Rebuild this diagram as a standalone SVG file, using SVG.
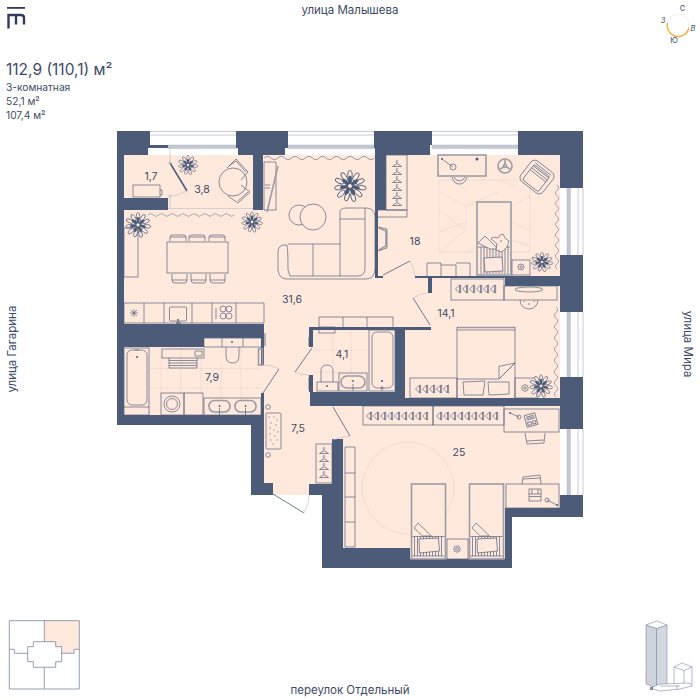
<svg xmlns="http://www.w3.org/2000/svg" xmlns:xlink="http://www.w3.org/1999/xlink" width="700" height="700" viewBox="0 0 700 700">
<style>
text{font-family:"Inter","Noto Sans","Liberation Sans",sans-serif;fill:#3d4b68;}
.lab{font-size:10.5px;text-anchor:middle;}
.st{font-size:11.5px;text-anchor:middle;}
.w{fill:#4c5b78;}
.f{fill:none;stroke:#56637e;stroke-width:.7;}
.p{fill:#ffe8dc;stroke:#56637e;stroke-width:.7;}
.g{fill:none;stroke:#9b9ca6;stroke-width:1.6;}
.gp{fill:#ffe8dc;stroke:#9b9ca6;stroke-width:1.6;}
.t{fill:none;stroke:#f3d8cb;stroke-width:.8;}
.r{fill:none;stroke:#f1dacf;stroke-width:.9;}
.c{fill:none;stroke:#4c5b78;stroke-width:.8;}
.d{fill:none;stroke:#4c5b78;stroke-width:1.5;}
.a{fill:none;stroke:#b9bdc8;stroke-width:.6;}
.wn{fill:none;stroke:#b9bfcc;stroke-width:.8;}
.wb{fill:#c3c9d4;stroke:#aab1c0;stroke-width:.4;}
.k{fill:none;stroke:#8a94a8;stroke-width:.9;}
</style>
<defs>
<g id="hanger" class="f"><path d="M-4.500 2.500 L0 -.5 L4.500 2.500 Z M0 -.5 V-1.800 A.8 .8 0 1 1 .8 -2.600"/></g>
<g id="shoe" class="f"><path d="M-2.500 0 L1.500 -4 V4 Z M1.500 -3.200 L2.600 -4 V4 L1.500 3.200"/></g>
<g id="plant">
<g fill="#ffe8dc" stroke="#4c5b78" stroke-width=".6">
<ellipse cx="0" cy="-7.500" rx="1.500" ry="3.200"/>
<ellipse cx="0" cy="-7.500" rx="1.500" ry="3.200" transform="rotate(33)"/>
<ellipse cx="0" cy="-7.500" rx="1.500" ry="3.200" transform="rotate(66)"/>
<ellipse cx="0" cy="-8" rx="1.500" ry="3.200" transform="rotate(98)"/>
<ellipse cx="0" cy="-7.500" rx="1.500" ry="3.200" transform="rotate(131)"/>
<ellipse cx="0" cy="-8" rx="1.500" ry="3.200" transform="rotate(164)"/>
<ellipse cx="0" cy="-7.500" rx="1.500" ry="3.200" transform="rotate(196)"/>
<ellipse cx="0" cy="-8" rx="1.500" ry="3.200" transform="rotate(229)"/>
<ellipse cx="0" cy="-7.500" rx="1.500" ry="3.200" transform="rotate(262)"/>
<ellipse cx="0" cy="-8" rx="1.500" ry="3.200" transform="rotate(295)"/>
<ellipse cx="0" cy="-7.500" rx="1.500" ry="3.200" transform="rotate(328)"/>
</g>
<g fill="#4c5b78">
<ellipse cx="0" cy="-4" rx="1.300" ry="3"/>
<ellipse cx="0" cy="-4" rx="1.300" ry="3" transform="rotate(52)"/>
<ellipse cx="0" cy="-4" rx="1.300" ry="3" transform="rotate(104)"/>
<ellipse cx="0" cy="-4" rx="1.300" ry="3" transform="rotate(156)"/>
<ellipse cx="0" cy="-4" rx="1.300" ry="3" transform="rotate(208)"/>
<ellipse cx="0" cy="-4" rx="1.300" ry="3" transform="rotate(260)"/>
<ellipse cx="0" cy="-4" rx="1.300" ry="3" transform="rotate(312)"/>
</g>
<circle r="1.200" fill="#ffe8dc"/>
</g>
<g id="bed25">
<rect class="gp" x="0" y="0" width="34" height="75"/>
<path class="f" d="M3 53 V72 M6 53 V72 M9 53 V72 M12 53 V72 M15 53 V72 M18 53 V72 M21 53 V72 M24 53 V72 M27 53 V72 M30 53 V72 M1 52.500 H33 M1 72 H33"/>
<path class="p" d="M7.500 55 L27 54 L28 67 L8 69 Z"/>
<path class="p" d="M2.500 44 L6.500 39 L20 52 L11 52 Z"/>
</g>
<g id="curtain"><path class="f" d="M0 0 q3.750 -4 7.500 0 t7.500 0 t7.500 0 t7.500 0 t7.500 0 t7.500 0 t7.500 0 t7.500 0 t7.500 0 t7.500 0 t7.500 0 t7.500 0 t7.500 0 t7.500 0 t7.500 0 t7.500 0"/></g>
</defs>

<g id="windows">
<path class="wn" d="M150 131.500H237 M150 135H237 M288 131.500H375 M288 135H375 M432 131.500H518 M432 135H518"/>
<rect class="wb" x="168" y="145" width="69" height="3.500"/><rect class="wb" x="288" y="145" width="87" height="3.500"/><rect class="wb" x="432" y="145" width="86" height="3.500"/>
<path class="wn" d="M578 188V255 M583 188V255 M578 312V377 M583 312V377 M578 429V495 M583 429V495"/>
<rect class="wb" x="567" y="188" width="3.500" height="67"/><rect class="wb" x="567" y="312" width="3.500" height="65"/><rect class="wb" x="567" y="429" width="3.500" height="66"/>
</g>

<path id="floor" fill="#ffe8dc" d="M124 155 H375 V155 H560 V508 H505 V559 H343 V495 H273 V483 H262 V325 H124 Z M124 210 H262 V340 H124 Z"/>
<rect fill="#ffe8dc" x="124" y="340" width="140" height="80"/>
<rect fill="#ffe8dc" x="260" y="210" width="120" height="130"/>
<rect fill="#ffe8dc" x="124" y="208" width="140" height="120"/>

<g id="floor-details">
<path class="t" d="M149 368.500H261 M149 388H261 M161 347V398 M181 347V398 M201 358V398 M221 363V398 M241 347V398 M149 398V415"/>
<path class="t" d="M313 350H369 M313 372H339 M333 331V365 M351 331V373"/>
<path class="r" d="M439 180H530V252H439Z M439 192L466 206L498 192 M439 210L466 230L439 252 M466 206L466 230 M439 232L466 222 M466 252L478 246 M512 206L530 196 M512 222L530 230 M512 240L530 246 M450 180L466 190 M498 180L515 186"/>
<circle class="r" cx="408" cy="488" r="46"/>
</g>

<g id="walls" class="w">
<path d="M117 131H150V145H168V148H148V155H124V198H168V210H124V324H264V210H253V155H238V148H236V131H288V148H285V155H263V210H264V338H204V347H124V415H261V393H264V365H261V338H264V425H264V483H273V495H251V425H117Z"/>
<path d="M374 131H432V145H430V155H386V210H378V276H383V278H375V148H374Z"/>
<path d="M518 131H583V188H560V155H518Z"/>
<path d="M560 255H583V312H560V286H505V278H415V276H560Z"/>
<path d="M428 278H432V293H428Z"/>
<path d="M560 377H583V429H560V406H505V406H310V392H313V375H309V392H395V330H313V347H309V327H431V330H405V398H560Z"/>
<path d="M332 439H343V548H410V559H505V508H560V495H583V517H512V568H322V495H309V484H332Z"/>
</g>

<g id="connectors">
<path class="d" d="M170 163L187 191"/><path class="a" d="M170 148V163 M170 196V208 M187 191Q178 196 170 196"/><circle class="a" cx="170" cy="163" r="1.400" fill="#ffe8dc"/><circle class="a" cx="170" cy="196" r="1.400" fill="#ffe8dc"/>
<path class="c" d="M263 393L279 369"/><path class="a" d="M261 365Q273 365 279 369"/>
<path class="c" d="M312 348L295 372"/><path class="a" d="M295 372Q300 375 309 375"/>
<path class="c" d="M265 333V346 M309 337V346 M309 377V390"/>
<path class="c" d="M273 494L304 513"/><path class="a" d="M304 513Q309 505 309 495"/>
<path class="c" d="M333 407L350 436"/><path class="a" d="M350 436Q341 437 333 440"/>
<path class="c" d="M383 275L410 261"/><path class="a" d="M410 261Q414 268 415 276"/>
<path class="c" d="M413 298L430 325"/><path class="a" d="M413 298Q420 293 428 293"/>
</g>

<g id="loggia">
<rect class="f" x="133" y="185" width="27" height="12"/><path class="f" d="M160 190H162V195H160"/>
<path class="a" d="M168 208.500H253"/>
<circle class="f" cx="233" cy="182" r="14"/>
<path class="f" d="M227 168L236 159L248 172L241 180 M229 166L236 161L246 172"/>
<path class="f" d="M241 185L250 192L238 203L228 196 M248 192L238 201"/>
<use xlink:href="#plant" transform="translate(188 165) scale(.9)"/>
</g>

<g id="living">
<use xlink:href="#curtain" transform="translate(148 215) scale(.72 .7)"/>
<use xlink:href="#curtain" transform="translate(264 158) scale(.92 .8)"/>
<path class="f" d="M264 162H276V210H264Z M265 185H270 M265 188H270"/>
<path class="g" d="M278 166L267 212"/>
<use xlink:href="#plant" transform="translate(138 225) scale(1.150)"/>
<use xlink:href="#plant" transform="translate(252 222) scale(.95)"/>
<use xlink:href="#plant" transform="translate(350 186) scale(1.450)"/>
<circle class="f" cx="299" cy="215" r="10"/><circle class="p" cx="313" cy="217" r="13"/>
<path class="f" d="M288 244H340 M278 252Q278 244 287 245Q288 250 288 270L290 276H340 M278 252V270Q279 279 287 279H340 M313 244V276 M340 219V276 M340 279H366Q375 279 375 268V216Q374 208 366 208H346Q340 208 340 212V219H365 M365 208V268Q365 276 358 276H340"/>
<rect class="f" x="167" y="242" width="61" height="31"/>
<path class="f" d="M170 241V237Q170 235 173 235H183Q186 235 186 237V241 M170 237H186 M189 241V237Q189 235 192 235H202Q205 235 205 237V241 M189 237H205 M209 241V237Q209 235 212 235H222Q225 235 225 237V241 M209 237H225"/>
<path class="f" d="M172 274V280Q172 283 175 283H185Q187 283 187 280V274 M172 280H187 M191 274V280Q191 283 194 283H204Q206 283 206 280V274 M191 280H206 M210 274V280Q210 283 213 283H223Q225 283 225 280V274 M210 280H225"/>
<rect class="f" x="124" y="228" width="14" height="49"/>
<path class="f" d="M124 303H264V323H124Z M144 303V323 M164 303V323 M192 303V323 M212 303V323 M236 303V323"/>
<rect class="f" x="169.500" y="307" width="17" height="14" rx="1"/><path d="M178 319V324" stroke="#7d8494" stroke-width="2"/><rect x="176" y="322" width="5" height="2" fill="#7d8494"/>
<path class="f" d="M216 308V319"/><circle class="f" cx="223" cy="309" r="3"/><circle class="f" cx="229" cy="309" r="3"/><circle class="f" cx="223" cy="316" r="3"/><circle class="f" cx="229" cy="316" r="3"/>
<path class="f" d="M134 309V317 M130 313H138 M131 310L137 316 M137 310L131 316"/>
<path class="f" d="M319 327V317H393V327 M343 317V327 M367 317V327"/>
</g>

<g id="bath-79">
<rect class="f" x="124" y="348" width="25" height="67"/><rect class="f" x="127" y="350" width="20" height="55" rx="5"/><circle cx="137" cy="357" r="1" fill="#4c5b78"/><path class="f" d="M135 350H139 M124 407H149"/>
<rect class="f" x="162" y="349" width="42" height="9"/><path class="f" d="M195 351H202V356H195Z"/>
<path class="f" d="M169 358V368H197V358 M169 360.500H197 M169 363H197 M169 365.500H197"/>
<path class="f" d="M204 338H262V347H204Z M222 338V347 M243 338V347 M226 347V356Q226 363 232.500 363Q239 363 239 356V347"/><circle cx="232" cy="342" r=".9" fill="#4c5b78"/>
<rect class="g" x="258.500" y="349" width="4" height="16" stroke="#6a7690"/>
<rect class="f" x="161" y="393" width="23" height="22"/><rect class="f" x="184" y="393" width="19" height="22"/><circle class="f" cx="172" cy="404" r="8"/><circle class="f" cx="172" cy="404" r="5.500"/>
<rect class="f" x="204" y="398" width="57" height="17"/>
<rect class="g" x="209" y="400.500" width="21" height="11.500" rx="5.500"/><rect class="g" x="235" y="400.500" width="21" height="11.500" rx="5.500"/>
<path class="f" d="M219.500 408V415 M245.500 408V415"/><circle cx="219.500" cy="406" r=".9" fill="#4c5b78"/><circle cx="245.500" cy="406" r=".9" fill="#4c5b78"/>
</g>

<g id="bath-41">
<rect class="f" x="319" y="327" width="16" height="6"/>
<path class="f" d="M321 382V371Q321 365 327 365Q333 365 333 371V382"/><rect class="f" x="317" y="382" width="21" height="9"/><circle cx="327" cy="386" r=".9" fill="#4c5b78"/>
<rect class="f" x="339" y="373" width="28" height="18"/><rect class="g" x="341" y="376" width="24" height="12" rx="6"/>
<path class="f" d="M353 384V391"/><circle cx="353" cy="381" r=".9" fill="#4c5b78"/>
<rect class="f" x="369" y="330" width="26" height="61"/><rect class="f" x="372" y="332" width="21" height="56" rx="5"/><circle cx="382" cy="381" r="1" fill="#4c5b78"/><path class="f" d="M380 388H384 M382 386V391"/>
</g>

<g id="hall">
<circle class="f" cx="268" cy="407" r="2.300"/><circle class="f" cx="268" cy="455" r="2.300"/>
<rect class="f" x="266" y="413" width="15" height="36" rx="1"/>
<path d="M269 417h.1 M274 417h.1 M277 420h.1 M271 423h.1 M276 425h.1 M270 428h.1 M274 430h.1 M278 432h.1 M270 434h.1 M275 436h.1 M271 440h.1 M277 440h.1 M273 444h.1" stroke="#4c5b78" stroke-width="1" stroke-linecap="round"/>
<rect class="f" x="316" y="444" width="16" height="39"/>
<use xlink:href="#hanger" transform="translate(324 451)"/><use xlink:href="#hanger" transform="translate(324 459)"/><use xlink:href="#hanger" transform="translate(324 467)"/><use xlink:href="#hanger" transform="translate(324 475)"/>
</g>

<g id="room-18">
<use xlink:href="#curtain" transform="translate(557 185) rotate(90) scale(.7 .8)"/>
<rect class="f" x="386" y="155" width="21" height="55"/><path class="f" d="M378 210H407V217H378"/>
<use xlink:href="#hanger" transform="translate(397 164)"/><use xlink:href="#hanger" transform="translate(397 172)"/><use xlink:href="#hanger" transform="translate(397 180)"/><use xlink:href="#hanger" transform="translate(397 188)"/><use xlink:href="#hanger" transform="translate(397 196)"/><use xlink:href="#hanger" transform="translate(397 203)"/>
<path class="g" d="M379 228L386 231V246L379 250" stroke-width="1.200"/><path class="f" d="M378 227L387 229V248L378 251"/>
<path class="f" d="M427 276V263H441V276 M441 265H456V276 M456 263H470V276"/>
<rect class="gp" x="438" y="155" width="48" height="21" stroke-width="1"/><path class="f" d="M442 159L453 167"/><circle class="f" cx="453" cy="167" r="3"/><circle cx="477" cy="159" r="1.500" fill="#4c5b78"/><circle cx="442" cy="159" r="1" fill="#56637e"/>
<path class="f" d="M452 177Q454 184 459.500 184Q465 184 467 177 M454 177Q456 181 459.500 181Q463 181 465 177"/>
<circle class="g" cx="505" cy="166" r="7"/><circle class="g" cx="505" cy="166" r="1.500" stroke-width="1"/><path class="g" d="M505 160V164 M500 169L503.500 167 M510 169L506.500 167" stroke-width="1"/>
<g transform="translate(537 177) rotate(38)">
<rect class="f" x="-14" y="-13" width="28" height="26" rx="5"/><rect class="f" x="-10" y="-8" width="20" height="19" rx="2"/>
<path class="f" d="M-10 -10H10 M-10 -6.500H10 M-10 -4H10 M-10 -1.500H10"/>
</g>
<rect class="gp" x="477" y="202" width="34" height="73"/>
<path class="f" d="M481 247V274 M484 247V274 M487 247V274 M490 247V274 M493 247V274 M496 247V274 M499 247V274 M502 247V274 M505 247V274 M508 247V274 M478 247H510"/>
<path class="p" d="M484 258L502 257L503 271L485 272Z"/>
<path class="p" d="M478 243L485 236L498 249H490Z"/>
<path class="p" d="M491 239Q492 236 498 238L500 235L503 234L505 238L509 241L507 247L502 252L496 250L497 244Z"/><circle cx="501" cy="241" r=".7" fill="#4c5b78"/>
<rect class="f" x="512" y="260" width="18" height="15"/><circle class="f" cx="521" cy="267" r="3"/><circle class="f" cx="521" cy="267" r="1.200"/>
<use xlink:href="#plant" transform="translate(542 262) scale(1 .9)"/>
</g>

<g id="room-141">
<use xlink:href="#curtain" transform="translate(556 307) rotate(90) scale(.75 .8)"/>
<rect class="f" x="451" y="279" width="53" height="21"/>
<use xlink:href="#shoe" transform="translate(458 289)"/><use xlink:href="#shoe" transform="translate(465 289)"/><use xlink:href="#shoe" transform="translate(472 289)"/><use xlink:href="#shoe" transform="translate(479 289)"/><use xlink:href="#shoe" transform="translate(486 289)"/><use xlink:href="#shoe" transform="translate(493 289)"/>
<rect class="f" x="504" y="286" width="53" height="14"/><ellipse class="f" cx="529" cy="289.500" rx="14" ry="2.500"/>
<path class="f" d="M520 300A9 9 0 0 0 538 300"/><circle cx="529" cy="304" r=".7" fill="#4c5b78"/><circle cx="524" cy="301.500" r=".5" fill="#4c5b78"/><circle cx="534" cy="301.500" r=".5" fill="#4c5b78"/>
<path class="g" d="M457 327.500H515" stroke-width="1"/><path class="f" d="M457 327V398 M515 327V398 M457 330H515 M457 379H499 M499 379L515 363 M501 366L515 363L499 379V366Z"/>
<rect class="f" x="410" y="378" width="47" height="20"/>
<use xlink:href="#shoe" transform="translate(418 389)"/><use xlink:href="#shoe" transform="translate(425 389)"/><use xlink:href="#shoe" transform="translate(432 389)"/><use xlink:href="#shoe" transform="translate(439 389)"/><use xlink:href="#shoe" transform="translate(446 389)"/>
<path class="p" d="M463 382L485 381L483 395L464 395Z"/><path class="p" d="M488 382L509 382L509 394L489 395Z"/>
<rect class="f" x="515" y="378" width="22" height="20"/><circle class="f" cx="525" cy="388" r="3.200"/><circle class="f" cx="525" cy="388" r="1.200"/>
<use xlink:href="#plant" transform="translate(541 386) scale(1.050)"/>
</g>

<g id="room-25">
<rect class="f" x="363" y="406" width="70" height="19"/><rect class="f" x="433" y="406" width="71" height="19"/>
<use xlink:href="#shoe" transform="translate(369 416)"/><use xlink:href="#shoe" transform="translate(376 416)"/><use xlink:href="#shoe" transform="translate(383 416)"/><use xlink:href="#shoe" transform="translate(390 416)"/><use xlink:href="#shoe" transform="translate(397 416)"/><use xlink:href="#shoe" transform="translate(404 416)"/><use xlink:href="#shoe" transform="translate(411 416)"/><use xlink:href="#shoe" transform="translate(418 416)"/><use xlink:href="#shoe" transform="translate(425 416)"/>
<use xlink:href="#shoe" transform="translate(439 416)"/><use xlink:href="#shoe" transform="translate(446 416)"/><use xlink:href="#shoe" transform="translate(453 416)"/><use xlink:href="#shoe" transform="translate(460 416)"/><use xlink:href="#shoe" transform="translate(467 416)"/><use xlink:href="#shoe" transform="translate(474 416)"/><use xlink:href="#shoe" transform="translate(481 416)"/><use xlink:href="#shoe" transform="translate(488 416)"/><use xlink:href="#shoe" transform="translate(495 416)"/>
<rect class="f" x="504" y="409" width="55" height="23"/><path class="f" d="M510 413L519 417"/><circle class="f" cx="519" cy="417" r="2"/><circle cx="510" cy="413" r="1" fill="#56637e"/>
<g transform="translate(531 420) rotate(-15)"><rect class="p" x="-5.500" y="-6" width="11" height="12"/><path class="f" d="M-4 -4H4 M-4 -2.500H4 M-4 -1H4 M-4 1.500H-.5V4.500H-4Z M1 1.500H4V4.500H1Z"/></g>
<path class="f" d="M525 433L527 444L544 443L545 433 M527 441L544 440"/>
<rect class="p" x="506" y="484" width="53" height="24"/><path class="f" d="M547 500L557 505"/><circle class="f" cx="547" cy="500" r="2"/><circle cx="557" cy="505" r="1" fill="#56637e"/>
<rect class="p" x="529" y="489" width="12" height="12"/><path class="f" d="M529 494H541 M529 496.500H541 M532 489V494 M538 489V494"/>
<path class="f" d="M522 484L523 477L540 475L541 484 M523 479L540 478"/>
<path class="f" d="M345 447V547H355V447Z M345 473H355 M345 497H355 M345 522H355"/>
<use xlink:href="#bed25" transform="translate(411.500 484)"/><use xlink:href="#bed25" transform="translate(469.500 484)"/>
<rect class="f" x="447" y="539" width="21" height="20"/><circle class="f" cx="457" cy="549" r="3.200"/><circle class="f" cx="457" cy="549" r="1.400"/>
</g>

<g id="labels">
<text class="lab" x="151" y="180">1,7</text>
<text class="lab" x="202" y="193">3,8</text>
<text class="lab" x="292" y="303">31,6</text>
<text class="lab" x="415" y="245">18</text>
<text class="lab" x="446" y="317">14,1</text>
<text class="lab" x="342" y="358">4,1</text>
<text class="lab" x="212" y="381">7,9</text>
<text class="lab" x="298" y="432">7,5</text>
<text class="lab" x="459" y="456">25</text>
</g>

<g id="header">
<rect x="7" y="7" width="18" height="1.800" fill="#2f3d5c"/>
<path d="M8.500 28.500V15H21Q24 15 24 18V24.500 M16 15V24.500" fill="none" stroke="#2f3d5c" stroke-width="2.400"/>
<text x="6" y="75" style="font-size:15.500px">112,9 (110,1) м²</text>
<text x="6" y="91" style="font-size:10.200px">3-комнатная</text>
<text x="6" y="105" style="font-size:10.200px">52,1 м²</text>
<text x="6" y="119" style="font-size:10.200px">107,4 м²</text>
</g>

<g id="streets">
<text class="st" x="350" y="14">улица Малышева</text>
<text class="st" x="350" y="694">переулок Отдельный</text>
<text class="st" transform="translate(16 349) rotate(-90)">улица Гагарина</text>
<text class="st" transform="translate(684 344) rotate(90)">улица Мира</text>
</g>

<g id="compass">
<circle cx="678" cy="25" r="11" fill="none" stroke="#ececec" stroke-width=".8"/>
<path d="M667.500 23A11 11 0 0 0 689 28" fill="none" stroke="#f6ae3c" stroke-width="1.300"/>
<text x="682.500" y="11" style="font-size:7.500px;text-anchor:middle">С</text>
<text x="693" y="31" style="font-size:7.500px;text-anchor:middle;font-style:italic">В</text>
<text x="674" y="43" style="font-size:7.500px;text-anchor:middle">Ю</text>
<text x="663" y="23" style="font-size:7.500px;text-anchor:middle;font-style:italic">З</text>
</g>

<g id="keyplan">
<path fill="#ffe8dc" d="M44.300 620.700H79.300V649.300H74V653.300H61.700V646.700H55.700V641.700H44.300Z"/>
<path class="k" d="M9.300 620.700H79.300V689H9.300Z M44.300 620.700V641.700 M44.300 667.300V689 M9.300 649.300H14.300V653.300H27.700 M61.700 653.300H74V649.300H79.300 M33.300 641.700H55.700V646.700H61.700V661.700H55.700V667.300H33.300V661.700H27.700V646.700H33.300Z"/>
</g>

<g id="building">
<path fill="#ced2da" stroke="#7f8aa0" stroke-width=".6" d="M646 625L656.500 628.500V688L646 684Z"/>
<path fill="#d4d7de" stroke="#7f8aa0" stroke-width=".6" d="M656.500 628.500L667 625V684L656.500 688Z"/>
<path fill="#fff" stroke="#7f8aa0" stroke-width=".6" d="M646 625L656.500 621L667 625L656.500 628.500Z"/>
<path fill="#fff" stroke="#7f8aa0" stroke-width=".6" d="M674 667L682 663L692 667V685H674Z M674 667L684 670.500L692 667 M684 670.500V683"/>
<path fill="#fff" stroke="#7f8aa0" stroke-width=".6" d="M650 688L660 684L690 683L692 686L680 689L660 691Z M660 686H680 M677 685V689"/>
<path fill="#7f8aa0" d="M650 687h3v3h-3Z"/>
</g>
</svg>
